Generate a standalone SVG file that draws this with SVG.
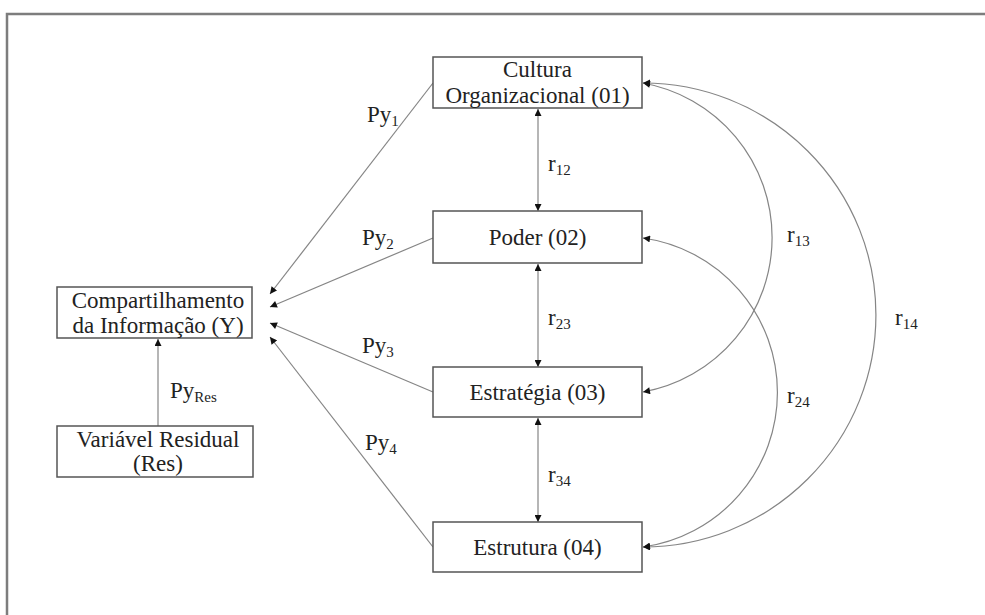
<svg xmlns="http://www.w3.org/2000/svg" width="985" height="615" viewBox="0 0 985 615">
<style>
.box{fill:#fff;stroke:#555;stroke-width:1.5}
.t{font-family:"Liberation Serif","Times New Roman",serif;font-size:23px;fill:#222;text-anchor:middle}
.lab{font-family:"Liberation Serif","Times New Roman",serif;font-size:23px;fill:#222}
.sub{font-size:15px}
.c{fill:none;stroke:#858585;stroke-width:1.2}
</style>
<defs>
<marker id="ah" viewBox="0 0 10 10" refX="10" refY="5" markerWidth="8" markerHeight="7" markerUnits="userSpaceOnUse" orient="auto-start-reverse">
<path d="M0,0 L10,5 L0,10 Z" fill="#111"/>
</marker>
</defs>
<rect width="985" height="615" fill="#fff"/>
<g id="frame" fill="none" stroke="#7d7d7d" stroke-width="2.5">
<path d="M7,615 L7,14 L985,14"/>
</g>
<g id="connectors">
<line class="c" x1="433" y1="83" x2="270" y2="294" marker-end="url(#ah)"/>
<line class="c" x1="433" y1="238" x2="270" y2="307" marker-end="url(#ah)"/>
<line class="c" x1="433" y1="392" x2="270" y2="323" marker-end="url(#ah)"/>
<line class="c" x1="433" y1="547" x2="270" y2="337" marker-end="url(#ah)"/>
<line class="c" x1="158" y1="426" x2="158" y2="339" marker-end="url(#ah)"/>
<line class="c" x1="538" y1="109" x2="538" y2="211" marker-start="url(#ah)" marker-end="url(#ah)"/>
<line class="c" x1="538" y1="264" x2="538" y2="367" marker-start="url(#ah)" marker-end="url(#ah)"/>
<line class="c" x1="538" y1="418" x2="538" y2="522" marker-start="url(#ah)" marker-end="url(#ah)"/>
<path class="c" d="M643,83 A157,157 0 0,1 643,392" marker-start="url(#ah)" marker-end="url(#ah)"/>
<path class="c" d="M643,238 A156,156 0 0,1 643,547" marker-start="url(#ah)" marker-end="url(#ah)"/>
<path class="c" d="M643,83 A233,232 0 0,1 643,547" marker-start="url(#ah)" marker-end="url(#ah)"/>
<text class="lab" x="367" y="122">Py<tspan class="sub" dy="4">1</tspan></text>
<text class="lab" x="362" y="245">Py<tspan class="sub" dy="4">2</tspan></text>
<text class="lab" x="362" y="353">Py<tspan class="sub" dy="4">3</tspan></text>
<text class="lab" x="365" y="450">Py<tspan class="sub" dy="4">4</tspan></text>
<text class="lab" x="170" y="398">Py<tspan class="sub" dy="4">Res</tspan></text>
<text class="lab" x="548" y="171">r<tspan class="sub" dy="4">12</tspan></text>
<text class="lab" x="548" y="325">r<tspan class="sub" dy="4">23</tspan></text>
<text class="lab" x="548" y="482">r<tspan class="sub" dy="4">34</tspan></text>
<text class="lab" x="787" y="242">r<tspan class="sub" dy="4">13</tspan></text>
<text class="lab" x="787" y="403">r<tspan class="sub" dy="4">24</tspan></text>
<text class="lab" x="895" y="325">r<tspan class="sub" dy="4">14</tspan></text>
</g>
<g id="n01">
<rect class="box" x="433" y="57" width="209" height="51"/>
<text class="t" x="537.5" y="77">Cultura</text>
<text class="t" x="537.5" y="103">Organizacional (01)</text>
</g>
<g id="n02">
<rect class="box" x="433" y="211" width="209" height="52"/>
<text class="t" x="537.5" y="245">Poder (02)</text>
</g>
<g id="n03">
<rect class="box" x="433" y="367" width="209" height="50"/>
<text class="t" x="537.5" y="400">Estratégia (03)</text>
</g>
<g id="n04">
<rect class="box" x="433" y="522" width="209" height="50"/>
<text class="t" x="537.5" y="555">Estrutura (04)</text>
</g>
<g id="nY">
<rect class="box" x="57" y="287" width="195" height="51"/>
<text class="t" x="158" y="308">Compartilhamento</text>
<text class="t" x="158" y="333">da Informação (Y)</text>
</g>
<g id="nRes">
<rect class="box" x="57" y="426" width="196" height="51"/>
<text class="t" x="158" y="447">Variável Residual</text>
<text class="t" x="158" y="471">(Res)</text>
</g>
</svg>
